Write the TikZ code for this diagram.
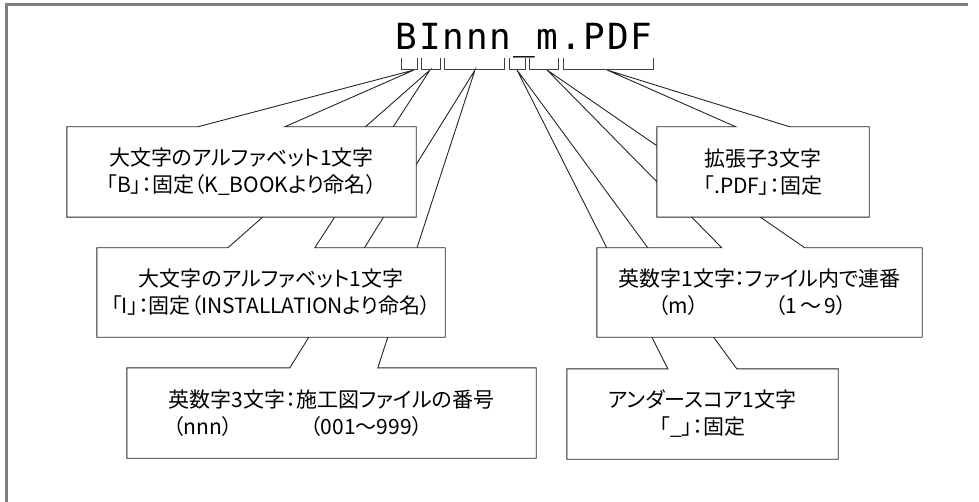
\documentclass[tikz,border=0pt]{standalone}
\usepackage{fontspec}
\setmainfont{Noto Sans CJK JP}[RawFeature=+palt]
\newfontfamily\titlefont{DejaVu Sans Mono}[LetterSpace=5]
\usetikzlibrary{backgrounds}

\begin{document}
\begin{tikzpicture}[x=1pt,y=-1pt,
    bubble/.style={draw=black!85,fill=white,line width=0.9pt}]
    \useasboundingbox (0,0) rectangle (979,502);
    \draw[gray,line width=3pt] (6,502) -- (6,5) -- (968,5);

    \node[font=\titlefont\fontsize{36}{36}\selectfont,anchor=base,inner sep=0pt]
      (T) at (524,50) {BInnn\_m.PDF};

    % brackets under the file name
    \foreach \a/\b in {401/417,421/440,444/504,509/525,529/558,563/653}
      \draw[darkgray,line width=1pt] (\a,58) -- (\a,70) -- (\b,70) -- (\b,58);

    \coordinate (pB) at (414,70);
    \coordinate (pI) at (430,70);
    \coordinate (pN) at (475,70);
    \coordinate (pU) at (517,70);
    \coordinate (pM) at (547,70);
    \coordinate (pP) at (607,70);

    \begin{scope}[every node/.style={rectangle,inner sep=0pt,font=\fontsize{21}{27}\selectfont}]
      \node[align=center,minimum width=349pt,minimum height=90pt] (B) at (241.5,172)
           {大文字のアルファベット1文字\\「B」：固定（K\_BOOKより命名）};
      \node[align=center,minimum width=348pt,minimum height=89pt] (I) at (271,292.5)
           {大文字のアルファベット1文字\\「I」：固定（INSTALLATIONより命名）};
      \node[align=left,minimum width=409pt,minimum height=90pt] (N) at (331.5,413)
           {英数字3文字：施工図ファイルの番号\\\hspace*{4pt}（nnn）\hspace{78pt}（001～999）};
      \node[align=center,minimum width=212pt,minimum height=90pt] (P) at (763,172)
           {拡張子3文字\\「.PDF」：固定};
      \node[align=left,minimum width=325pt,minimum height=89pt] (M) at (759.5,292.5)
           {英数字1文字：ファイル内で連番\\\hspace*{40pt}（m）\hspace{76pt}（1\,～\,9）};
      \node[align=center,minimum width=271pt,minimum height=90pt] (U) at (702.5,414)
           {アンダースコア1文字\\「\_」：固定};
    \end{scope}

    % callout outlines, back ones first
    \begin{scope}[on background layer]
      \foreach \n/\p/\a/\b in {N/pN/163/251,I/pI/131/218,B/pB/131/218,
                               U/pU/101/170,M/pM/125/208,P/pP/79/133}
        \path[bubble] (\n.north west) -- ([xshift=\a pt]\n.north west) -- (\p)
          -- ([xshift=\b pt]\n.north west) -- (\n.north east) -- (\n.south east)
          -- (\n.south west) -- cycle;
    \end{scope}
\end{tikzpicture}
\end{document}
